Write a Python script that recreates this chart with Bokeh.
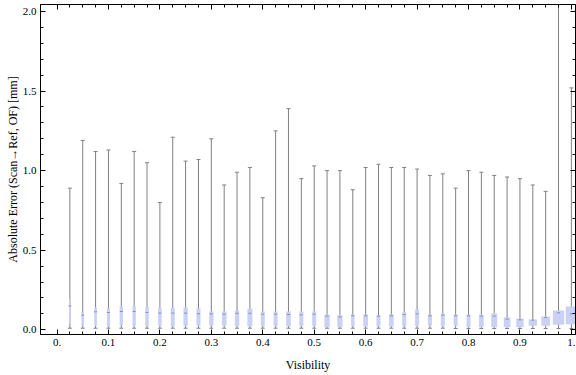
from bokeh.plotting import figure
from bokeh.models import LinearAxis, FixedTicker, Range1d, ColumnDataSource, CustomJSTickFormatter
from bokeh.embed import file_html
from bokeh.resources import INLINE

# ---- data ----
visibility = [0.025, 0.05, 0.075, 0.1, 0.125, 0.15, 0.175, 0.2, 0.225, 0.25,
              0.275, 0.3, 0.325, 0.35, 0.375, 0.4, 0.425, 0.45, 0.475, 0.5,
              0.525, 0.55, 0.575, 0.6, 0.625, 0.65, 0.675, 0.7, 0.725, 0.75,
              0.775, 0.8, 0.825, 0.85, 0.875, 0.9, 0.925, 0.95, 0.975, 1.0]
err_max = [0.89, 1.19, 1.12, 1.13, 0.92, 1.12, 1.05, 0.80, 1.21, 1.06,
           1.07, 1.20, 0.91, 0.99, 1.02, 0.83, 1.25, 1.39, 0.95, 1.03,
           1.00, 1.00, 0.88, 1.02, 1.04, 1.02, 1.02, 1.01, 0.97, 0.98,
           0.89, 1.00, 0.99, 0.97, 0.96, 0.95, 0.91, 0.87, 2.60, 1.52]
err_q3 = [0.195, 0.109, 0.140, 0.134, 0.147, 0.147, 0.144, 0.138, 0.138, 0.140,
          0.134, 0.115, 0.115, 0.121, 0.132, 0.115, 0.115, 0.115, 0.115, 0.115,
          0.096, 0.092, 0.098, 0.098, 0.092, 0.098, 0.109, 0.128, 0.096, 0.103,
          0.096, 0.096, 0.096, 0.103, 0.077, 0.071, 0.065, 0.084, 0.121, 0.147]
err_median = [0.150, 0.092, 0.113, 0.109, 0.115, 0.115, 0.109, 0.105, 0.105, 0.105,
              0.101, 0.100, 0.098, 0.104, 0.104, 0.098, 0.098, 0.096, 0.094, 0.098,
              0.086, 0.080, 0.088, 0.088, 0.086, 0.088, 0.096, 0.100, 0.088, 0.092,
              0.088, 0.088, 0.086, 0.086, 0.067, 0.063, 0.061, 0.077, 0.107, 0.100]
err_q1 = [0.040, 0.025, 0.025, 0.019, 0.030, 0.025, 0.025, 0.025, 0.021, 0.025,
          0.025, 0.025, 0.025, 0.023, 0.023, 0.023, 0.023, 0.023, 0.023, 0.025,
          0.016, 0.016, 0.022, 0.021, 0.021, 0.021, 0.021, 0.025, 0.025, 0.021,
          0.025, 0.016, 0.016, 0.016, 0.016, 0.016, 0.025, 0.025, 0.031, 0.035]
err_min = [0.010, 0.010, 0.010, 0.010, 0.010, 0.010, 0.010, 0.010, 0.010, 0.010,
           0.010, 0.010, 0.010, 0.010, 0.010, 0.010, 0.010, 0.010, 0.010, 0.010,
           0.010, 0.010, 0.010, 0.010, 0.010, 0.010, 0.010, 0.010, 0.010, 0.010,
           0.008, 0.008, 0.008, 0.008, 0.008, 0.008, 0.008, 0.008, 0.008, 0.008]
box_width = [0.0030, 0.0052, 0.0052, 0.0058, 0.0064, 0.0064, 0.0068, 0.0068, 0.0078, 0.0084,
             0.0078, 0.0084, 0.0091, 0.0084, 0.0097, 0.0078, 0.0078, 0.0091, 0.0078, 0.0078,
             0.0103, 0.0103, 0.0068, 0.0091, 0.0078, 0.0091, 0.0078, 0.0078, 0.0078, 0.0078,
             0.0078, 0.0078, 0.0091, 0.0117, 0.0130, 0.0142, 0.0161, 0.0169, 0.0220, 0.0220]

x_ticks = [0.0, 0.1, 0.2, 0.3, 0.4, 0.5, 0.6, 0.7, 0.8, 0.9, 1.0]
x_tick_labels = ["0.", "0.1", "0.2", "0.3", "0.4", "0.5", "0.6", "0.7", "0.8", "0.9", "1."]
y_ticks = [0.0, 0.5, 1.0, 1.5, 2.0]
y_tick_labels = ["0.0", "0.5", "1.0", "1.5", "2.0"]

x_label = "Visibility"
y_label = "Absolute Error (Scan\u2192Ref, OF) [mm]"

src = ColumnDataSource(dict(x=visibility, hi=err_max, q3=err_q3, med=err_median,
                            q1=err_q1, lo=err_min, w=box_width))

FONT = "Liberation Serif"
BOX = "#cad1f5"
WHISK = "#808080"

p = figure(width=576, height=375,
           x_range=Range1d(-0.0321, 1.0080), y_range=Range1d(-0.0295, 2.044),
           output_backend="svg", toolbar_location=None,
           min_border_left=40, min_border_right=1, min_border_top=4, min_border_bottom=41,
           background_fill_color="white", border_fill_color="white",
           outline_line_color="black", outline_line_width=1)
p.grid.visible = False

x_minor = [round(0.025 * i, 3) for i in range(0, 41)]
y_minor = [round(0.1 * i, 2) for i in range(0, 21)]

xt = FixedTicker(ticks=x_ticks, minor_ticks=x_minor)
yt = FixedTicker(ticks=y_ticks, minor_ticks=y_minor)

xa = p.xaxis[0]
xa.ticker = xt
xa.major_label_overrides = dict(zip(x_ticks, x_tick_labels))
xa.axis_label = x_label
ya = p.yaxis[0]
ya.ticker = yt
ya.major_label_overrides = dict(zip(y_ticks, y_tick_labels))
ya.axis_label = y_label

blank = CustomJSTickFormatter(code="return '';")
top = LinearAxis(ticker=FixedTicker(ticks=x_ticks, minor_ticks=x_minor), formatter=blank)
right = LinearAxis(ticker=FixedTicker(ticks=y_ticks, minor_ticks=y_minor), formatter=blank)
p.add_layout(top, "above")
p.add_layout(right, "right")

for ax in [xa, ya, top, right]:
    ax.major_tick_in = 5
    ax.major_tick_out = 0
    ax.minor_tick_in = 3
    ax.minor_tick_out = 0
    ax.axis_line_color = "black"
    ax.major_tick_line_color = "black"
    ax.minor_tick_line_color = "black"
    ax.major_label_text_font = FONT
    ax.major_label_text_font_size = "11px"
    ax.major_label_text_color = "black"
    ax.axis_label_text_font = FONT
    ax.axis_label_text_font_size = "12px"
    ax.axis_label_text_font_style = "normal"
    ax.axis_label_text_color = "black"

for ax in [top, right]:
    ax.major_label_standoff = 0

xa.major_label_standoff = 4
xa.axis_label_standoff = 9
ya.major_label_standoff = 4
ya.axis_label_standoff = 0

# whiskers (drawn first, boxes cover them)
p.segment(x0="x", y0="lo", x1="x", y1="hi", source=src, line_color=WHISK, line_width=1)
p.scatter(x="x", y="hi", source=src, marker="dash", size=4, line_color=WHISK, line_width=1)
p.scatter(x="x", y="lo", source=src, marker="dash", size=4, line_color=WHISK, line_width=1)
# boxes
p.vbar(x="x", width="w", bottom="q1", top="q3", source=src,
       fill_color=BOX, line_color=None)
# medians
p.scatter(x="x", y="med", source=src, marker="dash", size=3, line_color="#8d8fa8", line_width=1)

open("out.html", "w").write(file_html(p, INLINE))
